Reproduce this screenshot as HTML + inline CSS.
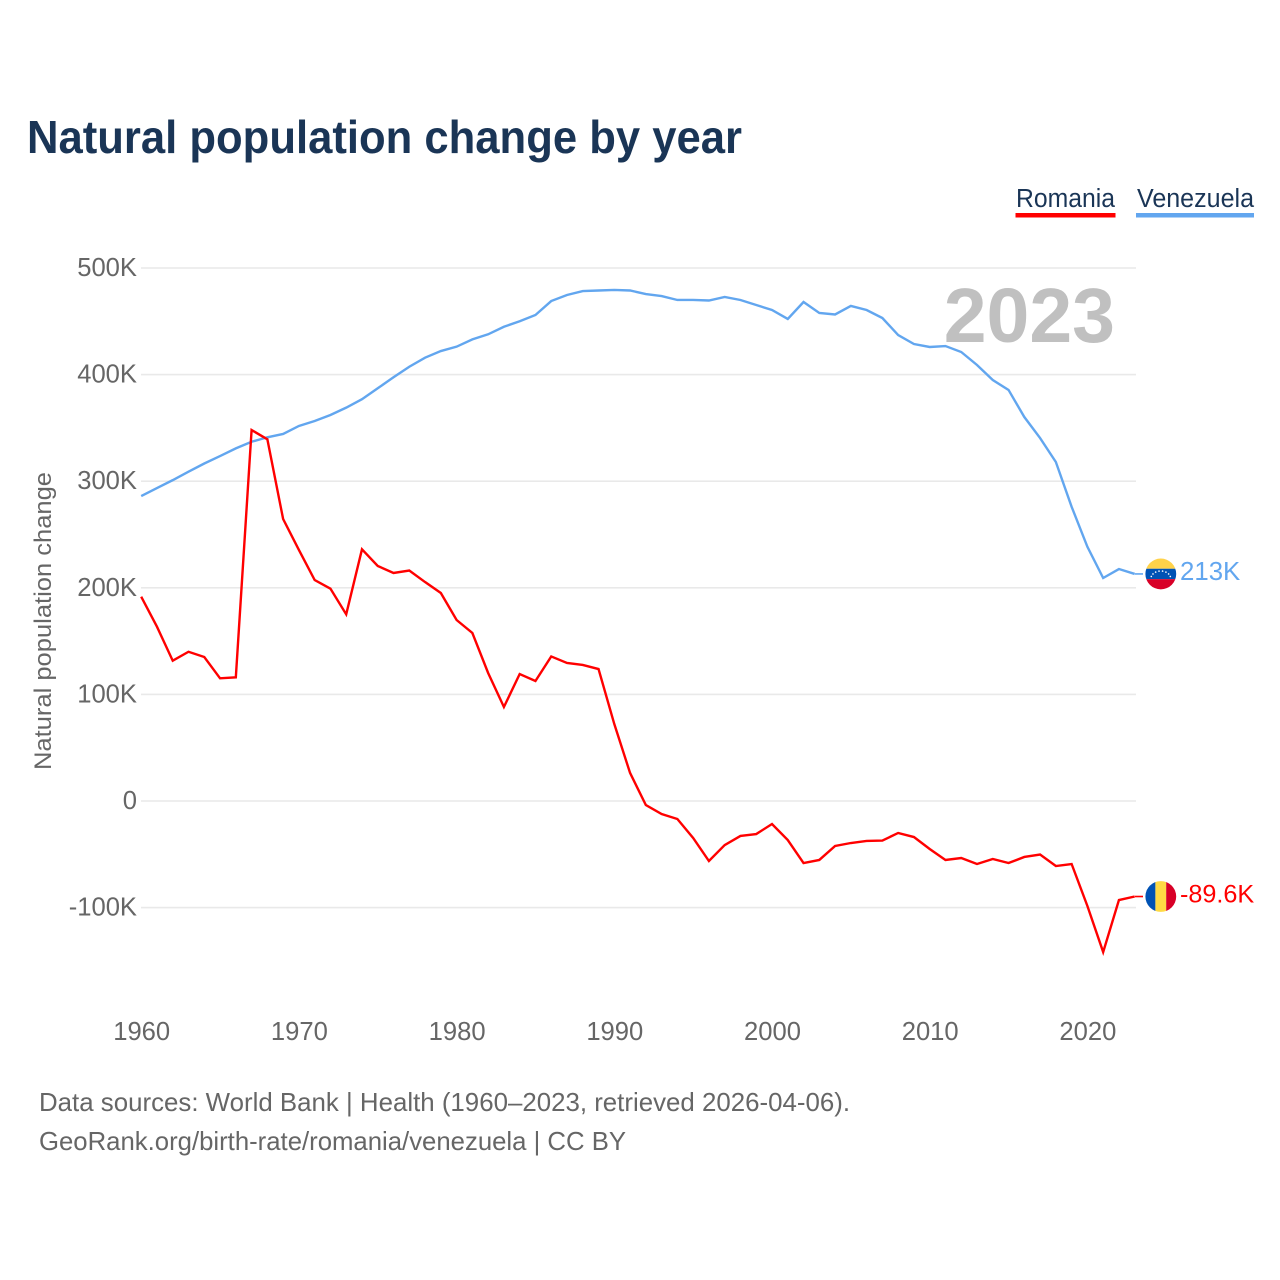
<!DOCTYPE html>
<html lang="en">
<head>
<meta charset="utf-8">
<title>Natural population change by year</title>
<style>
html,body{margin:0;padding:0;background:#fff;}
svg{display:block;}
text{font-family:"Liberation Sans",sans-serif;}
</style>
</head>
<body>
<svg id="chart" width="1280" height="1280" viewBox="0 0 1280 1280" xmlns="http://www.w3.org/2000/svg">
  <defs>
    <clipPath id="clip-ve"><circle id="clip-ve-c" r="15.4"></circle></clipPath>
    <clipPath id="clip-ro"><circle id="clip-ro-c" r="15.4"></circle></clipPath>
  </defs>
  <text x="27" y="153" font-size="46" font-weight="700" fill="#1a3556" textLength="715" lengthAdjust="spacingAndGlyphs">Natural population change by year</text>

  <g>
    <g>
      <text x="1016" y="207" font-size="25.5" fill="#1a3556" textLength="99" lengthAdjust="spacingAndGlyphs">Romania</text>
      <rect x="1015.5" y="213" width="100" height="4.5" fill="#ff0000"></rect>
    </g>
    <g>
      <text x="1137" y="207" font-size="25.5" fill="#1a3556" textLength="117" lengthAdjust="spacingAndGlyphs">Venezuela</text>
      <rect x="1136" y="213" width="118" height="4.5" fill="#62a6ef"></rect>
    </g>
  </g>

  <g id="grid"></g>
  <g id="y-ticks"></g>
  <g id="x-ticks"></g>

  <text x="1115" y="342" text-anchor="end" font-size="77" font-weight="700" fill="#c0c0c0">2023</text>

  <text transform="translate(51,621) rotate(-90)" text-anchor="middle" font-size="24" fill="#666666" textLength="298" lengthAdjust="spacingAndGlyphs">Natural population change</text>

  <polyline id="line-ve" fill="none" stroke="#62a6ef" stroke-width="2.4" stroke-linejoin="miter"></polyline>
  <polyline id="line-ro" fill="none" stroke="#ff0000" stroke-width="2.4" stroke-linejoin="miter"></polyline>
  <line id="conn-ve" stroke="#62a6ef" stroke-width="1.6"></line>
  <line id="conn-ro" stroke="#ff0000" stroke-width="1.6"></line>

  <g id="flag-ve">
    <g clip-path="url(#clip-ve)">
      <rect id="ve-1" fill="#ffd24a"></rect>
      <rect id="ve-2" fill="#0052b4"></rect>
      <rect id="ve-3" fill="#d80027"></rect>
    </g>
    <g id="ve-stars"></g>
  </g>
  <g id="flag-ro">
    <g clip-path="url(#clip-ro)">
      <rect id="ro-1" fill="#0052b4"></rect>
      <rect id="ro-2" fill="#ffda44"></rect>
      <rect id="ro-3" fill="#d80027"></rect>
    </g>
  </g>
  <text id="end-ve" x="1180" font-size="25.8" fill="#62a6ef"></text>
  <text id="end-ro" x="1180" font-size="25.2" fill="#ff0000"></text>

  <text x="39" y="1111" font-size="26" fill="#666666" textLength="811" lengthAdjust="spacingAndGlyphs">Data sources: World Bank | Health (1960–2023, retrieved 2026-04-06).</text>
  <text x="39" y="1150" font-size="26" fill="#666666" textLength="587" lengthAdjust="spacingAndGlyphs">GeoRank.org/birth-rate/romania/venezuela | CC BY</text>
</svg>
<script>
// Chart data, in thousands of people per year
const startYear = 1960;
const yTickValues = [500, 400, 300, 200, 100, 0, -100];
const xTickYears = [1960, 1970, 1980, 1990, 2000, 2010, 2020];
const venezuelaValues = [
  286.1, 293.6, 301, 308.9, 316.6, 323.6, 330.8, 337, 341.2, 344.3,
  351.8, 356.5, 362.1, 369, 376.9, 387.2, 397.5, 407.4, 415.9, 422.1,
  426.2, 433, 437.8, 444.9, 450, 455.9, 469, 474.7, 478.4, 478.9,
  479.4, 478.9, 475.6, 473.7, 470, 470, 469.5, 472.8, 470, 465.3,
  460.6, 452.2, 468.1, 457.8, 456.4, 464.4, 460.6, 453.1, 437.1, 428.7,
  425.9, 426.8, 421.2, 409, 394.9, 385.6, 360.2, 340.5, 318, 276,
  238.5, 209.2, 217.6, 213
];
const romaniaValues = [
  191.7, 163.5, 131.6, 140, 135.1, 115.1, 116, 348, 339.3, 264.5,
  235.5, 207.3, 199.2, 175.1, 236.1, 220.5, 213.9, 216.2, 205.4, 195.1,
  169.8, 157.6, 120.1, 88.2, 119.1, 112.6, 135.6, 129.5, 127.6, 123.8,
  72.2, 26.3, -3.8, -12.2, -16.9, -34.7, -56.3, -41.3, -32.8, -31,
  -21.6, -36.6, -58.2, -55.3, -42.2, -39.4, -37.5, -37.1, -30, -33.8,
  -45, -55.3, -53.5, -59.1, -54.4, -58.2, -52.5, -50.2, -61, -59.1,
  -98.5, -141.7, -92.9, -89.6
];

const NS = 'http://www.w3.org/2000/svg';
function xScale(year) { return 141.2 + (year - 1960) * 15.77; }
function yScale(v) { return 801 - v * 1.066; }
function fmt(v) {
  if (v === 0) return '0';
  return (Math.round(v * 10) / 10) + 'K';
}
function make(tag, attrs, parent) {
  const el = document.createElementNS(NS, tag);
  for (const k in attrs) el.setAttribute(k, attrs[k]);
  parent.appendChild(el);
  return el;
}

const gridG = document.getElementById('grid');
const yG = document.getElementById('y-ticks');
yTickValues.forEach(function (v) {
  const line = make('line', { x1: 141, x2: 1136, y1: yScale(v), y2: yScale(v), stroke: '#e9e9e9', 'stroke-width': 1.6 }, gridG);
  
  
  const t = make('text', { x: 137, y: yScale(v) + 8, 'text-anchor': 'end', 'font-size': 25.6, fill: '#666666' }, yG);
  
  
  t.textContent = fmt(v);
});

const xG = document.getElementById('x-ticks');
xTickYears.forEach(function (yr) {
  const t = make('text', { x: xScale(yr) + 0.5, y: 1040, 'text-anchor': 'middle', 'font-size': 25.6, fill: '#666666' }, xG);
  
  
  t.textContent = String(yr);
});

function pts(values) {
  return values.map(function (v, i) {
    return xScale(startYear + i).toFixed(2) + ',' + yScale(v).toFixed(2);
  }).join(' ');
}
document.getElementById('line-ve').setAttribute('points', pts(venezuelaValues));
document.getElementById('line-ro').setAttribute('points', pts(romaniaValues));

const lastVe = venezuelaValues[venezuelaValues.length - 1];
const lastRo = romaniaValues[romaniaValues.length - 1];
const fx = 1160.8;
const yVe = yScale(lastVe);
const yRo = yScale(lastRo);

[['conn-ve', yVe], ['conn-ro', yRo]].forEach(function (c) {
  const l = document.getElementById(c[0]);
  l.setAttribute('x1', 1135);
  l.setAttribute('x2', 1143);
  l.setAttribute('y1', c[1]);
  l.setAttribute('y2', c[1]);
});

const cVe = document.getElementById('clip-ve-c');
cVe.setAttribute('cx', fx);
cVe.setAttribute('cy', yVe);
const cRo = document.getElementById('clip-ro-c');
cRo.setAttribute('cx', fx);
cRo.setAttribute('cy', yRo);

[['ve-1', -16, 10.8], ['ve-2', -5.2, 10.4], ['ve-3', 5.2, 10.8]].forEach(function (b) {
  const r = document.getElementById(b[0]);
  r.setAttribute('x', fx - 16);
  r.setAttribute('y', yVe + b[1]);
  r.setAttribute('width', 32);
  r.setAttribute('height', b[2]);
});
[['ro-1', -16, 10.6], ['ro-2', -5.4, 10.8], ['ro-3', 5.4, 10.6]].forEach(function (b) {
  const r = document.getElementById(b[0]);
  r.setAttribute('x', fx + b[1]);
  r.setAttribute('y', yRo - 16);
  r.setAttribute('width', b[2]);
  r.setAttribute('height', 32);
});

const starsG = document.getElementById('ve-stars');
for (let i = 0; i < 8; i++) {
  const a = Math.PI * (1.1 + 0.8 * i / 7);
  const s = make('circle', { cx: fx + 10 * Math.cos(a), cy: yVe + 5 + 8 * Math.sin(a), r: 0.8, fill: '#ffffff' }, starsG);
  
  
}

const endVe = document.getElementById('end-ve');
endVe.setAttribute('y', yVe + 6);
endVe.textContent = fmt(lastVe);
const endRo = document.getElementById('end-ro');
endRo.setAttribute('y', yRo + 6);
endRo.textContent = fmt(lastRo);
</script>
</body>
</html>
